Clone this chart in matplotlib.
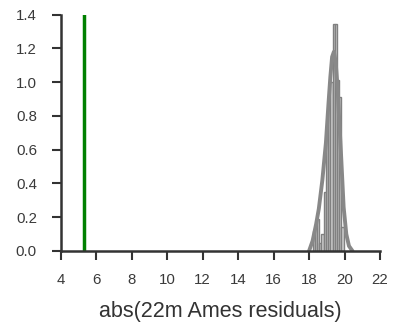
import matplotlib
matplotlib.use("Agg")
import matplotlib.pyplot as plt
import numpy as np

plt.rcParams['font.family'] = ['Liberation Sans', 'DejaVu Sans']

# histogram (density)
bin_left = [18.20, 18.325, 18.45, 18.575, 18.70, 18.825, 18.95, 19.075, 19.20, 19.325, 19.45, 19.575, 19.70, 19.825]
bin_height = [0.12, 0.14, 0.19, 0.05, 0.10, 0.35, 0.67, 0.85, 1.00, 1.345, 1.345, 1.01, 0.91, 0.14]
bin_width = 0.125

# KDE curve points
kde_x = [18.0, 18.2, 18.4, 18.55, 18.75, 18.95, 19.1, 19.2, 19.3, 19.4, 19.5, 19.6, 19.7, 19.8, 19.95, 20.1, 20.25, 20.45]
kde_y = [0.0, 0.06, 0.16, 0.25, 0.42, 0.64, 0.88, 1.03, 1.15, 1.18, 1.12, 0.98, 0.78, 0.58, 0.26, 0.10, 0.03, 0.0]

observed = 5.28
xticks = [4, 6, 8, 10, 12, 14, 16, 18, 20, 22]
yticks = [0.0, 0.2, 0.4, 0.6, 0.8, 1.0, 1.2, 1.4]

fig = plt.figure(figsize=(4.09, 3.31), dpi=100)
ax = fig.add_axes([0.149, 0.2417, 0.78, 0.714])

ax.bar(bin_left, bin_height, width=bin_width, align='edge',
       color='#cccccc', edgecolor='#808080', linewidth=1.0)
ax.plot(kde_x, kde_y, color='#888888', lw=2.8, solid_capstyle='round')
ax.axvline(observed, color='#008000', lw=2.5)

ax.set_xlim(4, 22)
ax.set_ylim(0, 1.4)
ax.set_xticks(xticks)
ax.set_yticks(yticks)
ax.set_yticklabels([f"{v:.1f}" for v in yticks])
for s in ['top', 'right']:
    ax.spines[s].set_visible(False)
for s in ['left', 'bottom']:
    ax.spines[s].set_color('#333333')
    ax.spines[s].set_linewidth(1.8)
ax.tick_params(direction='out', length=6.5, width=1.5, color='#333333',
               labelcolor='#3a3a3a', labelsize=10.8)
ax.tick_params(axis='x', pad=9.5)
ax.tick_params(axis='y', pad=10.8)
ax.set_xlabel('abs(22m Ames residuals)', fontsize=15.5, color='#333333', labelpad=10)

fig.savefig('out.png', dpi=100)
